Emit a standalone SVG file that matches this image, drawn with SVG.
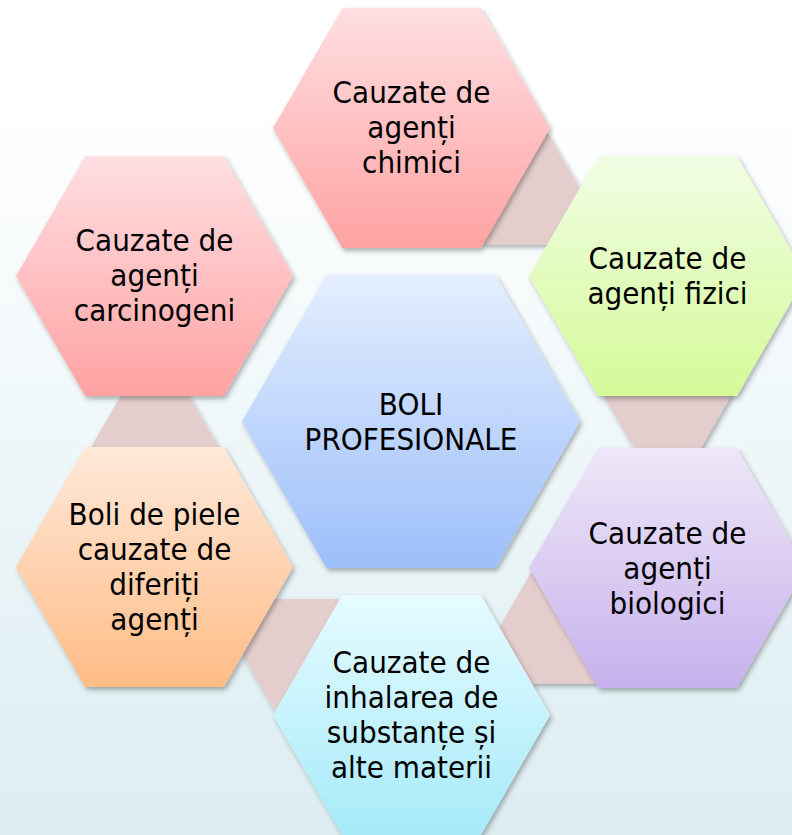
<svg xmlns="http://www.w3.org/2000/svg" width="792" height="835" viewBox="0 0 792 835">
<style>
  .lbl { font-family: "DejaVu Sans Condensed", "DejaVu Sans", sans-serif; font-stretch: condensed; font-size: 31px; fill: #000; text-anchor: middle; }
  .conn { fill: #e4cdcd; filter: url(#sh); }
  .hex { filter: url(#sh); }
</style>
<defs>
  <linearGradient id="bg" x1="0" y1="0" x2="0" y2="1">
    <stop offset="0" stop-color="#ffffff"/>
    <stop offset="0.12" stop-color="#ffffff"/>
    <stop offset="1" stop-color="#dcedf1"/>
  </linearGradient>
  <linearGradient id="gRed" x1="0" y1="0" x2="0" y2="1">
    <stop offset="0" stop-color="#ffdfe2"/>
    <stop offset="1" stop-color="#ffa2a2"/>
  </linearGradient>
  <linearGradient id="gGreen" x1="0" y1="0" x2="0" y2="1">
    <stop offset="0" stop-color="#f1fde4"/>
    <stop offset="1" stop-color="#d4fa98"/>
  </linearGradient>
  <linearGradient id="gLav" x1="0" y1="0" x2="0" y2="1">
    <stop offset="0" stop-color="#eee7f8"/>
    <stop offset="1" stop-color="#c7b1ec"/>
  </linearGradient>
  <linearGradient id="gCyan" x1="0" y1="0" x2="0" y2="1">
    <stop offset="0" stop-color="#e6fbff"/>
    <stop offset="1" stop-color="#a6eafa"/>
  </linearGradient>
  <linearGradient id="gOrange" x1="0" y1="0" x2="0" y2="1">
    <stop offset="0" stop-color="#ffe9d9"/>
    <stop offset="1" stop-color="#ffbc86"/>
  </linearGradient>
  <linearGradient id="gBlue" x1="0" y1="0" x2="0" y2="1">
    <stop offset="0" stop-color="#e4eeff"/>
    <stop offset="1" stop-color="#9cbff9"/>
  </linearGradient>
  <filter id="sh" x="-10%" y="-10%" width="125%" height="125%">
    <feDropShadow dx="2" dy="3" stdDeviation="2.5" flood-color="#000" flood-opacity="0.3"/>
  </filter>
</defs>
<rect width="792" height="835" fill="url(#bg)"/>
<g id="connectors">
  <polygon class="conn" points="452,189 484,133.6 548,133.6 580,189 548,244.4 484,244.4"/>
  <polygon class="conn" points="603.5,395 635.5,339.6 699.5,339.6 731.5,395 699.5,450.4 635.5,450.4"/>
  <polygon class="conn" points="499,628 531,572.6 595,572.6 627,628 595,683.4 531,683.4"/>
  <polygon class="conn" points="242.5,654.5 274.5,599.1 338.5,599.1 370.5,654.5 338.5,709.9 274.5,709.9"/>
  <polygon class="conn" points="90.5,448 122.5,392.6 186.5,392.6 218.5,448 186.5,503.4 122.5,503.4"/>
</g>
<g id="center">
  <polygon class="hex" fill="url(#gBlue)" points="242,421.5 326.5,275.1 495.5,275.1 580,421.5 495.5,567.9 326.5,567.9"/>
  <text class="lbl" x="411" y="415">BOLI</text>
  <text class="lbl" x="411" y="450">PROFESIONALE</text>
</g>
<g id="chimici">
  <polygon class="hex" fill="url(#gRed)" points="273,128 342.25,8 480.75,8 550,128 480.75,248 342.25,248"/>
  <text class="lbl" x="411.5" y="103">Cauzate de</text>
  <text class="lbl" x="411.5" y="138">agenți</text>
  <text class="lbl" x="411.5" y="173">chimici</text>
</g>
<g id="fizici">
  <polygon class="hex" fill="url(#gGreen)" points="529,276 598.25,156 736.75,156 806,276 736.75,396 598.25,396"/>
  <text class="lbl" x="667.5" y="269">Cauzate de</text>
  <text class="lbl" x="667.5" y="304">agenți fizici</text>
</g>
<g id="biologici">
  <polygon class="hex" fill="url(#gLav)" points="529,568 598.25,448 736.75,448 806,568 736.75,688 598.25,688"/>
  <text class="lbl" x="667.5" y="544">Cauzate de</text>
  <text class="lbl" x="667.5" y="579">agenți</text>
  <text class="lbl" x="667.5" y="614">biologici</text>
</g>
<g id="inhalarea">
  <polygon class="hex" fill="url(#gCyan)" points="273,715 342.25,595 480.75,595 550,715 480.75,835 342.25,835"/>
  <text class="lbl" x="411.5" y="673">Cauzate de</text>
  <text class="lbl" x="411.5" y="708">inhalarea de</text>
  <text class="lbl" x="411.5" y="743">substanțe și</text>
  <text class="lbl" x="411.5" y="778">alte materii</text>
</g>
<g id="piele">
  <polygon class="hex" fill="url(#gOrange)" points="16,567 85.25,447 223.75,447 293,567 223.75,687 85.25,687"/>
  <text class="lbl" x="154.5" y="525">Boli de piele</text>
  <text class="lbl" x="154.5" y="560">cauzate de</text>
  <text class="lbl" x="154.5" y="595">diferiți</text>
  <text class="lbl" x="154.5" y="630">agenți</text>
</g>
<g id="carcinogeni">
  <polygon class="hex" fill="url(#gRed)" points="16,276 85.25,156 223.75,156 293,276 223.75,396 85.25,396"/>
  <text class="lbl" x="154.5" y="251">Cauzate de</text>
  <text class="lbl" x="154.5" y="286">agenți</text>
  <text class="lbl" x="154.5" y="321">carcinogeni</text>
</g>
</svg>
